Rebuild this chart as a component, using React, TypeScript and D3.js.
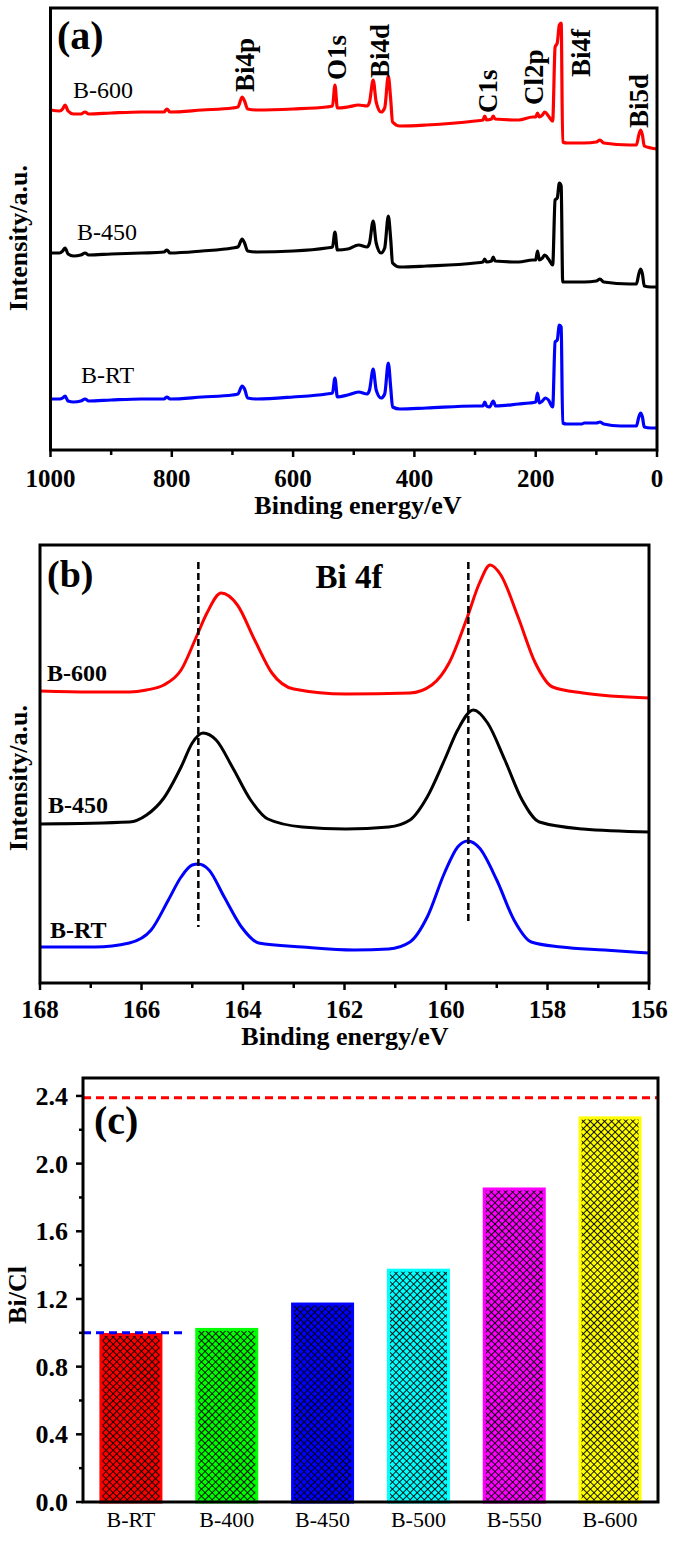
import * as d3 from "d3";

// ---------- (a) XPS survey spectra: [binding energy eV, intensity a.u.] ----------
const surveyB600: [number, number][] = [
  [1000, 340], [985, 339], [980, 341], [976, 345], [971, 339], [962, 336], [950, 336], [943, 338], [937, 336],
  [900, 337], [850, 338], [813, 338], [808, 341], [803, 338], [750, 340], [700, 342], [691, 343], [684, 353],
  [680, 349], [675, 341], [660, 340], [600, 341], [545, 343], [535, 344], [531, 365], [527, 342], [510, 343],
  [492, 345], [478, 344], [474, 348], [468, 370], [463, 348], [455, 338], [449, 342], [443, 374], [439, 350],
  [436, 328], [424, 324], [380, 325], [300, 329], [287, 330], [284, 334], [281, 330], [273, 331], [270, 334],
  [267, 331], [228, 330], [205, 333], [200, 333], [197, 337], [194, 333], [189, 335], [185, 338], [179, 334],
  [172, 329], [168, 403], [164.5, 407], [161, 425], [158, 427], [155.5, 308], [149, 307], [120, 307], [100, 308],
  [94, 310], [88, 307], [45, 305], [34, 305], [30, 315], [27, 320], [24, 315], [21, 304], [10, 302], [0, 301],
];
const surveyB450: [number, number][] = [
  [1000, 197], [985, 197], [980, 199], [976, 202], [971, 196], [962, 194], [950, 195], [943, 197], [937, 195],
  [900, 196], [850, 197], [813, 198], [808, 200], [803, 197], [750, 199], [700, 202], [691, 203], [684, 211],
  [680, 207], [675, 199], [660, 198], [600, 199], [545, 202], [535, 203], [531, 218], [527, 200], [510, 201],
  [492, 205], [478, 203], [474, 207], [468, 229], [463, 207], [455, 197], [449, 202], [443, 234], [439, 210],
  [436, 187], [424, 183], [380, 184], [300, 187], [287, 188], [284, 191], [281, 188], [273, 189], [270, 193],
  [267, 189], [228, 188], [205, 190], [200, 190], [197, 199], [194, 190], [189, 192], [185, 195], [179, 191],
  [172, 185], [168, 250], [164.5, 252], [161, 267], [158, 264], [155.5, 168], [149, 168], [120, 168], [100, 169],
  [94, 171], [88, 168], [45, 166], [34, 166], [30, 176], [27, 181], [24, 176], [21, 164], [10, 163], [0, 163],
];
const surveyBRT: [number, number][] = [
  [1000, 51], [985, 51], [980, 52], [976, 54], [971, 49], [962, 48], [950, 49], [943, 51], [937, 49],
  [900, 50], [850, 51], [813, 51], [808, 53], [803, 51], [750, 53], [700, 55], [691, 56], [684, 64],
  [680, 61], [675, 52], [660, 51], [600, 53], [545, 56], [535, 57], [531, 72], [527, 53], [510, 55],
  [492, 58], [478, 56], [474, 60], [468, 81], [463, 60], [455, 52], [449, 56], [443, 87], [439, 62],
  [436, 43], [424, 41], [380, 42], [300, 44], [287, 44], [284, 48], [281, 44], [276, 43], [270, 49],
  [266, 44], [228, 46], [210, 47], [200, 48], [197, 57], [194, 47], [189, 49], [184, 52], [179, 50],
  [172, 43], [168, 108], [164.5, 110], [161, 125], [158, 123], [155.5, 27], [149, 26], [124, 26], [120, 27],
  [100, 27], [94, 28], [88, 26], [60, 24], [34, 24], [30, 33], [27, 37], [24, 33], [21, 23], [10, 22], [0, 22],
];
const peakNames = ["Bi4p", "O1s", "Bi4d", "C1s", "Cl2p", "Bi4f", "Bi5d"];
const peakLabelEnergy = [679, 528, 457, 279, 203, 125, 30];
const peakLabelIntensity = [358, 370, 372, 337, 345, 373, 322];
const surveyTicks = [0, 200, 400, 600, 800, 1000];

// ---------- (b) Bi 4f high-resolution spectra ----------
const bi4fB600: [number, number][] = [
  [168, 292], [167, 291], [166.24, 291], [165.9, 293], [165.56, 298], [165.22, 313], [164.92, 346], [164.71, 370],
  [164.43, 390], [164.11, 378], [163.77, 343], [163.43, 310], [163.0, 294], [161.98, 289], [160.71, 290],
  [160.28, 298], [159.94, 320], [159.6, 363], [159.34, 400], [159.13, 418], [158.92, 408], [158.58, 366],
  [158.24, 320], [157.9, 296], [157.3, 290], [156.0, 285],
];
const bi4fB450: [number, number][] = [
  [168, 159], [166.24, 161], [165.9, 168], [165.56, 185], [165.22, 216], [165.0, 240], [164.79, 250], [164.53, 243],
  [164.2, 215], [163.85, 183], [163.51, 164], [162.83, 156], [161.98, 154], [161.13, 156], [160.71, 163],
  [160.37, 186], [160.03, 223], [159.77, 253], [159.46, 273], [159.18, 260], [158.84, 223], [158.5, 183],
  [158.16, 161], [157.3, 154], [156.0, 151],
];
const bi4fBRT: [number, number][] = [
  [168, 36], [166.92, 36], [166.24, 40], [165.81, 53], [165.47, 83], [165.22, 106], [165.0, 118], [164.88, 119],
  [164.67, 113], [164.37, 86], [164.03, 56], [163.69, 40], [162.83, 36], [161.81, 33], [161.13, 34], [160.71, 41],
  [160.37, 66], [160.03, 110], [159.77, 136], [159.57, 142], [159.34, 135], [159.0, 103], [158.66, 63],
  [158.32, 41], [157.73, 36], [156.88, 33], [156.0, 30],
];
const refEnergies = [164.88, 159.56];
const refLineTop = [421, 421];
const refLineBottom = [56, 61];
const bi4fTicks = [156, 158, 160, 162, 164, 166, 168];

// ---------- (c) Bi/Cl ratio ----------
const samples = ["B-RT", "B-400", "B-450", "B-500", "B-550", "B-600"];
const biClRatio = [0.99, 1.02, 1.17, 1.37, 1.85, 2.27];
const barColors = ["#ff0000", "#00ff00", "#0000ff", "#00ffff", "#ff00ff", "#ffff00"];
const ratioTicks = [0, 0.4, 0.8, 1.2, 1.6, 2.0, 2.4];
const ratioMinor = [0.2, 0.6, 1.0, 1.4, 1.8, 2.2];
const stoichRatioRed = 2.39;
const stoichRatioBlue = 1.0;

const FONT = '"Liberation Serif", "Times New Roman", serif';

export default function App() {
  // panel (a)
  const ax = d3.scaleLinear().domain([1000, 0]).range([50.5, 657]);
  const ay = d3.scaleLinear().domain([0, 442]).range([450, 8]);
  const aLine = d3.line<[number, number]>().x((d) => ax(d[0])).y((d) => ay(d[1])).curve(d3.curveMonotoneX);
  const aSeries = [
    { name: "B-600", data: surveyB600, color: "#ff0000" },
    { name: "B-450", data: surveyB450, color: "#000000" },
    { name: "B-RT", data: surveyBRT, color: "#0000ff" },
  ];

  // panel (b)
  const bx = d3.scaleLinear().domain([168, 156]).range([40, 649]);
  const by = d3.scaleLinear().domain([0, 438]).range([983, 545]);
  const bLine = d3.line<[number, number]>().x((d) => bx(d[0])).y((d) => by(d[1])).curve(d3.curveMonotoneX);
  const bSeries = [
    { name: "B-600", data: bi4fB600, color: "#ff0000" },
    { name: "B-450", data: bi4fB450, color: "#000000" },
    { name: "B-RT", data: bi4fBRT, color: "#0000ff" },
  ];

  // panel (c)
  const cx = d3.scaleBand<string>().domain(samples).range([83, 658]).paddingInner(0.374).paddingOuter(0.187);
  const cy = d3.scaleLinear().domain([0, 2.506]).range([1502, 1078]);
  const bw = cx.bandwidth();

  const frame = (x0: number, x1: number, y0: number, y1: number) => (
    <rect x={x0} y={y0} width={x1 - x0} height={y1 - y0} fill="none" stroke="#000" strokeWidth={3} />
  );

  return (
    <svg width={675} height={1545} style={{ position: "absolute", left: 0, top: 0, background: "#fff" }} fontFamily={FONT}>
      <defs>
        {barColors.map((c, i) => (
          <pattern key={i} id={`hatch-${i}`} patternUnits="userSpaceOnUse" width={5} height={5} patternTransform="rotate(45)">
            <rect width={5} height={5} fill={c} />
            <line x1={0} y1={0} x2={5} y2={0} stroke="#000" strokeWidth={1.8} />
            <line x1={0} y1={0} x2={0} y2={5} stroke="#000" strokeWidth={1.8} />
          </pattern>
        ))}
      </defs>
      <rect width={675} height={1545} fill="#fff" />

      {/* ---------------- (a) ---------------- */}
      {aSeries.map((s) => (
        <path key={s.name} d={aLine(s.data) || ""} fill="none" stroke={s.color} strokeWidth={3.2} strokeLinejoin="round" />
      ))}
      {frame(50.5, 657, 8, 450)}
      {surveyTicks.map((t) => (
        <g key={t}>
          <line x1={ax(t)} x2={ax(t)} y1={450} y2={457} stroke="#000" strokeWidth={2.5} />
          <text x={ax(t)} y={487} textAnchor="middle" fontSize={25} fontWeight="bold">{t}</text>
        </g>
      ))}
      {surveyTicks.slice(0, -1).map((t) => (
        <line key={t} x1={ax(t + 100)} x2={ax(t + 100)} y1={450} y2={455} stroke="#000" strokeWidth={2.5} />
      ))}
      <text x={358} y={514} textAnchor="middle" fontSize={26} fontWeight="bold">Binding energy/eV</text>
      <text transform="translate(27,238) rotate(-90)" textAnchor="middle" fontSize={26} fontWeight="bold">Intensity/a.u.</text>
      <text x={57} y={49} fontSize={40} fontWeight="bold">(a)</text>
      <text x={73} y={98} fontSize={24}>B-600</text>
      <text x={77} y={240} fontSize={24}>B-450</text>
      <text x={81} y={383} fontSize={24}>B-RT</text>
      {peakNames.map((p, i) => (
        <text key={p} transform={`translate(${ax(peakLabelEnergy[i]) + 9},${ay(peakLabelIntensity[i])}) rotate(-90)`} fontSize={27} fontWeight="bold">
          {p}
        </text>
      ))}

      {/* ---------------- (b) ---------------- */}
      {bSeries.map((s) => (
        <path key={s.name} d={bLine(s.data) || ""} fill="none" stroke={s.color} strokeWidth={3} />
      ))}
      {refEnergies.map((e, i) => (
        <line key={e} x1={bx(e)} x2={bx(e)} y1={by(refLineTop[i])} y2={by(refLineBottom[i])} stroke="#000" strokeWidth={2.5} strokeDasharray="7 4" />
      ))}
      {frame(40, 649, 545, 983)}
      {bi4fTicks.map((t) => (
        <g key={t}>
          <line x1={bx(t)} x2={bx(t)} y1={983} y2={990} stroke="#000" strokeWidth={2.5} />
          <text x={bx(t)} y={1018} textAnchor="middle" fontSize={25} fontWeight="bold">{t}</text>
        </g>
      ))}
      {bi4fTicks.slice(0, -1).map((t) => (
        <line key={t} x1={bx(t + 1)} x2={bx(t + 1)} y1={983} y2={988} stroke="#000" strokeWidth={2.5} />
      ))}
      <text x={345} y={1045} textAnchor="middle" fontSize={26} fontWeight="bold">Binding energy/eV</text>
      <text transform="translate(27,778) rotate(-90)" textAnchor="middle" fontSize={26} fontWeight="bold">Intensity/a.u.</text>
      <text x={47} y={587} fontSize={38} fontWeight="bold">(b)</text>
      <text x={349} y={588} textAnchor="middle" fontSize={33} fontWeight="bold">Bi 4f</text>
      <text x={47} y={681} fontSize={24} fontWeight="bold">B-600</text>
      <text x={48} y={813} fontSize={24} fontWeight="bold">B-450</text>
      <text x={50} y={938} fontSize={24} fontWeight="bold">B-RT</text>

      {/* ---------------- (c) ---------------- */}
      {samples.map((s, i) => (
        <rect key={s} x={cx(s)} y={cy(biClRatio[i])} width={bw} height={cy(0) - cy(biClRatio[i])}
          fill={`url(#hatch-${i})`} stroke={barColors[i]} strokeWidth={3} />
      ))}
      <line x1={83} x2={658} y1={cy(stoichRatioRed)} y2={cy(stoichRatioRed)} stroke="#ff0000" strokeWidth={3} strokeDasharray="8 5" />
      <line x1={83} x2={(cx("B-400") || 0) - 13} y1={cy(stoichRatioBlue)} y2={cy(stoichRatioBlue)} stroke="#0000ff" strokeWidth={3} strokeDasharray="8 5" />
      {frame(83, 658, 1078, 1502)}
      {ratioTicks.map((t) => (
        <g key={t}>
          <line x1={76} x2={83} y1={cy(t)} y2={cy(t)} stroke="#000" strokeWidth={2.5} />
          <text x={68} y={cy(t)} dy="0.35em" textAnchor="end" fontSize={26} fontWeight="bold">{t.toFixed(1)}</text>
        </g>
      ))}
      {ratioMinor.map((t) => (
        <line key={t} x1={79} x2={83} y1={cy(t)} y2={cy(t)} stroke="#000" strokeWidth={2.5} />
      ))}
      {samples.map((s) => (
        <text key={s} x={(cx(s) || 0) + bw / 2} y={1527} textAnchor="middle" fontSize={22}>{s}</text>
      ))}
      <text transform="translate(26,1295) rotate(-90)" textAnchor="middle" fontSize={26} fontWeight="bold">Bi/Cl</text>
      <text x={94} y={1134} fontSize={40} fontWeight="bold">(c)</text>
    </svg>
  );
}
